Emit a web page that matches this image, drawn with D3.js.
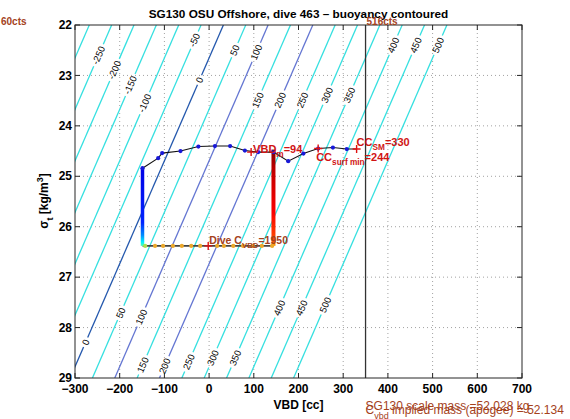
<!DOCTYPE html>
<html><head><meta charset="utf-8">
<script src="https://cdn.jsdelivr.net/npm/d3@7"></script>
<style>
body{margin:0;background:#fff}
svg{display:block}
text{font-family:"Liberation Sans",Arial,Helvetica,sans-serif}
</style>
</head><body>
<svg id="c" width="570" height="419"></svg>
<script>
// ---------- data ----------
const xTicks = [-300,-200,-100,0,100,200,300,400,500,600,700];
const yTicks = [22,23,24,25,26,27,28,29];
const titleText = "SG130 OSU Offshore, dive 463 \u2013 buoyancy contoured";

// buoyancy contours: level, VBD where it meets sigma=22 (top) and sigma=29 (bottom)
const contourLevels    = [-300,-250,-200,-150,-100,-50,0,50,100,150,200,250,300,350,400,450,500];
const contourVbdTop    = [-268,-218,-168,-118,-68,-18,32,82,132,182,232,282,332,382,432,482,532];
const contourVbdBottom = [-611,-561,-511,-461,-411,-361,-311,-261,-211,-161,-111,-61,-11,39,89,139,189];
// inline contour labels: level and sigma position
const labelLevels = [-250,-200,-150,-100,-50,0,50,100,150,200,250,300,350,400,450,500,
                     0,50,100,150,200,250,300,350,400,450,500];
const labelSigmas = [22.6,22.89,23.19,23.55,22.3,23.09,22.5,22.54,23.49,23.49,23.49,23.39,23.39,22.4,22.4,22.4,
                     28.29,27.71,27.79,28.74,28.76,28.68,28.6,28.6,27.61,27.61,27.55];

// near-surface track (blue points)
const surfVBD   = [-149,-114,-105,-64,-24,13,47,80,110,144,177,211,244,277,308];
const surfSigma = [24.84,24.64,24.54,24.50,24.41,24.40,24.40,24.49,24.52,24.52,24.70,24.55,24.45,24.43,24.46];
const smEnd = [330, 24.46];
// descent at constant VBD, bottom pump, ascent at constant VBD
const descentVBD = -149, descentSigma = [24.84, 26.38];
const bottomSigma = 26.38;
const bottomVBD = [-143,-121,-103,-81,-61,-40,-20,18,33,54,76,98,118,141];
const ascentVBD = 144, ascentSigma = [26.38, 24.47];
// red markers
const markVBD   = [94, 244, 330, -2];
const markSigma = [24.52, 24.45, 24.46, 26.38];
// vertical reference line
const refVBD = 350;

// ---------- drawing ----------
const svg = d3.select('#c');
svg.append('rect').attr('width',570).attr('height',419).attr('fill','#fff');
const x = d3.scaleLinear().domain([-300,700]).range([75,522]);
const y = d3.scaleLinear().domain([22,29]).range([25,378]);
const X0=x(-300), X1=x(700), Y0=y(22), Y1=y(29);
const defs = svg.append('defs');
defs.append('clipPath').attr('id','clip').append('rect')
  .attr('x',X0).attr('y',Y0).attr('width',X1-X0).attr('height',Y1-Y0);

function jet(t){
  const c=v=>Math.max(0,Math.min(1,v));
  const r=c(1.5-Math.abs(4*t-3)), g=c(1.5-Math.abs(4*t-2)), b=c(1.5-Math.abs(4*t-1));
  return d3.rgb(r*255,g*255,b*255).formatHex();
}

// grid
const grid = svg.append('g').attr('stroke','#8a8a8a').attr('stroke-width',0.8).attr('stroke-dasharray','1,3');
xTicks.slice(1,-1).forEach(v=>grid.append('line').attr('x1',x(v)).attr('x2',x(v)).attr('y1',Y0).attr('y2',Y1));
yTicks.slice(1,-1).forEach(v=>grid.append('line').attr('y1',y(v)).attr('y2',y(v)).attr('x1',X0).attr('x2',X1));

// contours
const cg = svg.append('g').attr('clip-path','url(#clip)');
const lg = svg.append('g');
function contourColor(L){ if(L===0) return '#2458ad'; if(L===100||L===200) return '#6476d2'; return '#35e0e0'; }
contourLevels.forEach((L,i)=>{
  const p0=[x(contourVbdBottom[i]),y(29)], p1=[x(contourVbdTop[i]),y(22)];
  const dx=p1[0]-p0[0], dy=p1[1]-p0[1], len=Math.hypot(dx,dy);
  const ang=Math.atan2(dy,dx)*180/Math.PI;
  const gaps=[];
  labelLevels.forEach((lv,j)=>{
    if(lv!==L) return;
    const t=(labelSigmas[j]-29)/(22-29);
    const px=p0[0]+t*dx, py=p0[1]+t*dy;
    const tx=lg.append('text').attr('transform',`translate(${px},${py}) rotate(${ang})`)
      .attr('text-anchor','middle').attr('dy','0.35em').attr('font-size',9.5).attr('fill','#000').text(String(L));
    const w=tx.node().getComputedTextLength();
    const h=(w/2+2.5)/len;
    gaps.push([t-h,t+h]);
  });
  gaps.sort((a,b)=>a[0]-b[0]);
  let s=0; const segs=[];
  gaps.forEach(g=>{segs.push([s,g[0]]); s=g[1];}); segs.push([s,1]);
  segs.forEach(([a,b])=>{
    cg.append('line').attr('x1',p0[0]+a*dx).attr('y1',p0[1]+a*dy).attr('x2',p0[0]+b*dx).attr('y2',p0[1]+b*dy)
      .attr('stroke',contourColor(L)).attr('stroke-width',1.3);
  });
});

// reference vertical line
svg.append('line').attr('x1',x(refVBD)).attr('x2',x(refVBD)).attr('y1',Y0).attr('y2',Y1)
  .attr('stroke','#333').attr('stroke-width',1.3);

// track lines
const dg = svg.append('g').attr('clip-path','url(#clip)');
const line = d3.line().x(d=>x(d[0])).y(d=>y(d[1]));
const surfPts = surfVBD.map((v,i)=>[v,surfSigma[i]]).concat([smEnd]);
dg.append('path').attr('d',line(surfPts)).attr('fill','none').attr('stroke','#111').attr('stroke-width',1.1);
dg.append('path').attr('d',line([[descentVBD,bottomSigma],[ascentVBD,bottomSigma]]))
  .attr('fill','none').attr('stroke','#444').attr('stroke-width',1.6);

// gradient bars
function grad(id, ya, yb, stops){
  const g=defs.append('linearGradient').attr('id',id).attr('gradientUnits','userSpaceOnUse')
    .attr('x1',0).attr('x2',0).attr('y1',ya).attr('y2',yb);
  stops.forEach(([o,t])=>g.append('stop').attr('offset',o).attr('stop-color',jet(t)));
}
grad('gd', y(descentSigma[0]), y(descentSigma[1]), [[0,0.1],[0.7,0.16],[0.86,0.26],[0.95,0.36],[1,0.45]]);
dg.append('line').attr('x1',x(descentVBD)).attr('x2',x(descentVBD))
  .attr('y1',y(descentSigma[0])).attr('y2',y(descentSigma[1])).attr('stroke','url(#gd)').attr('stroke-width',3.5);
grad('ga', y(ascentSigma[0]), y(ascentSigma[1]), [[0,0.72],[0.06,0.8],[0.35,0.88],[0.75,0.93],[1,0.99]]);
dg.append('line').attr('x1',x(ascentVBD)).attr('x2',x(ascentVBD))
  .attr('y1',y(ascentSigma[0])).attr('y2',y(ascentSigma[1])).attr('stroke','url(#ga)').attr('stroke-width',4);

// dots
dg.selectAll('.sd').data(surfVBD.map((v,i)=>[v,surfSigma[i]])).join('circle')
  .attr('cx',d=>x(d[0])).attr('cy',d=>y(d[1])).attr('r',2.1).attr('fill','#1818d8');
dg.selectAll('.bd').data(bottomVBD).join('circle')
  .attr('cx',d=>x(d)).attr('cy',y(bottomSigma)).attr('r',2.1).attr('fill',(d,i)=>i===0?'#a8e050':'#eca82a');

// red + markers
markVBD.forEach((v,i)=>{
  const cx=x(v), cy=y(markSigma[i]);
  svg.append('path').attr('d',`M${cx-4},${cy}H${cx+4}M${cx},${cy-4}V${cy+4}`)
    .attr('stroke','#e01010').attr('stroke-width',1.4);
});

// rich text helper
function rich(parent, x0, y0, parts, o){
  const t=parent.append('text').attr('x',x0).attr('y',y0).attr('font-size',o.size)
    .attr('fill',o.color||'#000').attr('font-weight',o.weight||'normal').attr('text-anchor',o.anchor||'start');
  let acc=0;
  parts.forEach(p=>{
    const target=p.sub?o.size*0.38:(p.sup?-o.size*0.45:0);
    const ts=t.append('tspan').text(p.t).attr('dy',target-acc);
    acc=target;
    if(p.sub||p.sup) ts.attr('font-size',o.size*0.75);
  });
  return t;
}
const red='#d01414', brown='#a4421c';
rich(svg, x(markVBD[0])+2, y(markSigma[0])+1, [{t:'VBD'},{t:'m',sub:true},{t:'=94'}], {size:11,color:red,weight:'bold'});
rich(svg, x(markVBD[1])-2, y(markSigma[1])+12, [{t:'CC'},{t:'surf min',sub:true},{t:'=244'}], {size:11,color:red,weight:'bold'});
rich(svg, x(markVBD[2]), y(markSigma[2])-3, [{t:'CC'},{t:'SM',sub:true},{t:'=330'}], {size:11,color:red,weight:'bold'});
rich(svg, x(markVBD[3])+1, y(markSigma[3])-2, [{t:'Dive C'},{t:'VBD',sub:true},{t:'=1950'}], {size:10.5,color:brown,weight:'bold'});

// axes box and ticks
const ax = svg.append('g').attr('stroke','#262626').attr('stroke-width',1);
ax.append('rect').attr('x',X0).attr('y',Y0).attr('width',X1-X0).attr('height',Y1-Y0).attr('fill','none');
xTicks.forEach(v=>{
  ax.append('line').attr('x1',x(v)).attr('x2',x(v)).attr('y1',Y1).attr('y2',Y1-5);
  ax.append('line').attr('x1',x(v)).attr('x2',x(v)).attr('y1',Y0).attr('y2',Y0+5);
});
yTicks.forEach(v=>{
  ax.append('line').attr('y1',y(v)).attr('y2',y(v)).attr('x1',X0).attr('x2',X0+5);
  ax.append('line').attr('y1',y(v)).attr('y2',y(v)).attr('x1',X1).attr('x2',X1-5);
});
const tl = svg.append('g').attr('font-size',12).attr('font-weight','bold').attr('fill','#000');
xTicks.forEach(v=>tl.append('text').attr('x',x(v)).attr('y',Y1+15).attr('text-anchor','middle')
  .text(v<0?'\u2212'+Math.abs(v):String(v)));
yTicks.forEach(v=>tl.append('text').attr('x',X0-3).attr('y',y(v)).attr('dy','0.35em').attr('text-anchor','end').text(String(v)));

// axis labels
svg.append('text').attr('x',(X0+X1)/2).attr('y',409).attr('text-anchor','middle')
  .attr('font-size',12).attr('font-weight','bold').text('VBD [cc]');
const yl = svg.append('g').attr('transform','translate(48,201) rotate(-90)');
rich(yl, 0, 0, [{t:'\u03c3'},{t:'t',sub:true},{t:' [kg/m'},{t:'3',sup:true},{t:']'}], {size:12,weight:'bold',anchor:'middle'});

// title
const tt = svg.append('text').attr('x',(X0+X1)/2).attr('y',18).attr('text-anchor','middle')
  .attr('font-size',12).attr('font-weight','bold').text(titleText);
const tw = tt.node().getComputedTextLength();
tt.attr('font-size', 12*300/tw);

// brown annotations
svg.append('text').attr('x',1).attr('y',25).attr('font-size',10).attr('font-weight','bold').attr('fill',brown).text('60cts');
svg.append('text').attr('x',x(refVBD)+1).attr('y',25).attr('font-size',10).attr('font-weight','bold').attr('fill',brown).text('516cts');
svg.append('text').attr('x',x(refVBD)).attr('y',410).attr('font-size',12).attr('fill',brown).text('SG130 scale mass =52.028 kg');
rich(svg, x(refVBD), 414, [{t:'C'},{t:'vbd',sub:true},{t:' implied mass (apogee) = 52.134'}], {size:12,color:brown});
</script>
</body></html>
